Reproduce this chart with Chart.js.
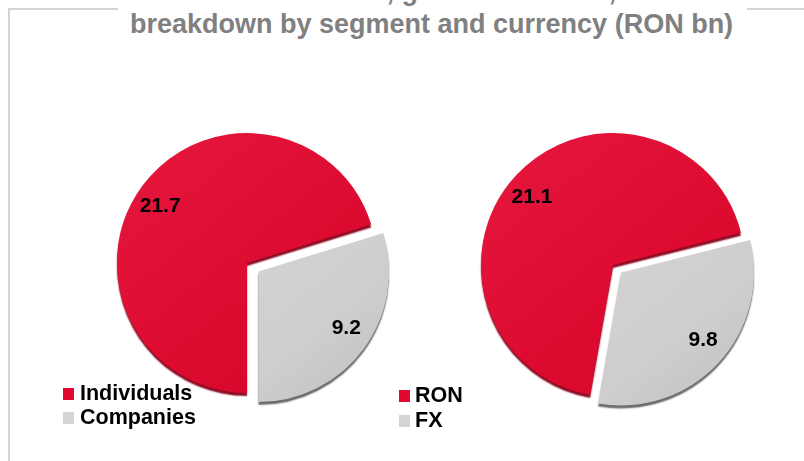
<!DOCTYPE html>
<html>
<head>
<meta charset="utf-8">
<script src="https://cdn.jsdelivr.net/npm/chart.js@4.4.1/dist/chart.umd.min.js"></script>
<style>
  html, body { margin:0; padding:0; background:#fff; }
  body { width:804px; height:461px; position:relative; overflow:hidden; font-family:"Liberation Sans", Arial, sans-serif; }
  .line { position:absolute; background:#d4d4d4; }
  #title { position:absolute; left:130px; top:-25px; font-size:27px; font-weight:bold; color:#808080; line-height:33px; white-space:nowrap; }
  canvas { position:absolute; }
  .legend { position:absolute; font-size:21.5px; font-weight:bold; color:#000; }
  .row { position:absolute; left:0; white-space:nowrap; height:24px; line-height:24px; }
  .sq { position:absolute; left:0; top:7px; width:11px; height:12px; }
  .lbl { position:absolute; }
</style>
</head>
<body>
<div class="line" style="left:8px; top:8px; width:2px; height:453px;"></div>
<div class="line" style="left:8px; top:8px; width:110px; height:2px;"></div>
<div class="line" style="left:747px; top:8px; width:57px; height:2px;"></div>
<div id="title"></div>
<canvas id="c1" width="320" height="320" style="left:87px; top:103px;"></canvas>
<canvas id="c2" width="330" height="330" style="left:448px; top:100px;"></canvas>
<div class="legend" id="lg1" style="left:63px; top:381px;"></div>
<div class="legend" id="lg2" style="left:399px; top:383px;"></div>
<script>
// ---- data ----
const titleLines = ["Loans to customers, gross: structure,", "breakdown by segment and currency (RON bn)"];
const segmentLabels = ["Individuals", "Companies"];
const segmentValues = [21.7, 9.2];
const currencyLabels = ["RON", "FX"];
const currencyValues = [21.1, 9.8];

// ---- styles ----
const legendColors = ["#e0082e", "#d4d4d4"];
const shadowColors = ["#8c0a22", "#6a6a6a"];

document.getElementById('title').innerHTML = titleLines.join('<br>');

function buildLegend(id, labels, textLeft, gap) {
  const el = document.getElementById(id);
  labels.forEach((t, i) => {
    const r = document.createElement('div');
    r.className = 'row';
    r.style.top = (i * gap) + 'px';
    r.innerHTML = '<span class="sq" style="background:' + legendColors[i] + '"></span><span class="lbl" style="left:' + textLeft + 'px">' + t + '</span>';
    el.appendChild(r);
  });
}
buildLegend('lg1', segmentLabels, 17, 23.5);
buildLegend('lg2', currencyLabels, 16, 24.5);

function fill(context) {
  const chart = context.chart;
  const area = chart.chartArea;
  const i = context.dataIndex;
  if (!area) return legendColors[i];
  const cx = (area.left + area.right) / 2, r = chart.options.radius;
  const g = chart.ctx.createLinearGradient(cx - r, area.top, cx + r, area.bottom);
  if (i === 0) {
    g.addColorStop(0, '#e8183f');
    g.addColorStop(0.6, '#dc0a2f');
    g.addColorStop(1, '#d2062a');
  } else {
    g.addColorStop(0, '#dcdada');
    g.addColorStop(0.7, '#cfcdcd');
    g.addColorStop(1, '#bdbbbb');
  }
  return g;
}

const depthPlugin = {
  id: 'depth',
  beforeDatasetsDraw(chart) {
    const c = chart.ctx;
    chart.getDatasetMeta(0).data.forEach((el, i) => {
      c.save();
      c.shadowColor = shadowColors[i];
      c.shadowOffsetX = 0;
      c.shadowOffsetY = 3;
      c.shadowBlur = 1.5;
      el.draw(c);
      c.restore();
    });
    return false;
  }
};

const valueLabels = {
  id: 'valueLabels',
  afterDraw(chart) {
    const c = chart.ctx;
    const ds = chart.data.datasets[0];
    c.save();
    c.font = 'bold 21px "Liberation Sans", Arial, sans-serif';
    c.fillStyle = '#000';
    c.textAlign = 'center';
    c.textBaseline = 'middle';
    chart.getDatasetMeta(0).data.forEach((el, i) => {
      const p = el.getProps(['x', 'y', 'startAngle', 'endAngle', 'outerRadius', 'circumference']);
      const mid = (p.startAngle + p.endAngle) / 2 - 3 * Math.PI / 180;
      const off = (el.options.offset || 0) / 4;
      const fix = 1 - Math.sin(Math.min(Math.PI, p.circumference || 0));
      const trans = off * (1 + fix);
      const d = trans + p.outerRadius * 0.8;
      c.fillText(ds.data[i].toFixed(1), p.x + Math.cos(mid) * d, p.y + Math.sin(mid) * d);
    });
    c.restore();
  }
};

function makePie(id, labels, values, rotation, radius, offset) {
  return new Chart(document.getElementById(id), {
    type: 'pie',
    data: {
      labels: labels,
      datasets: [{
        data: values,
        backgroundColor: fill,
        borderWidth: 0,
        offset: [0, offset]
      }]
    },
    options: {
      responsive: false,
      animation: false,
      rotation: rotation,
      radius: radius,
      layout: { padding: 0 },
      plugins: { legend: { display: false }, tooltip: { enabled: false } }
    },
    plugins: [depthPlugin, valueLabels]
  });
}

makePie('c1', segmentLabels, segmentValues, 180, 130, 57);
makePie('c2', currencyLabels, currencyValues, 190, 132, 44);
</script>
</body>
</html>
